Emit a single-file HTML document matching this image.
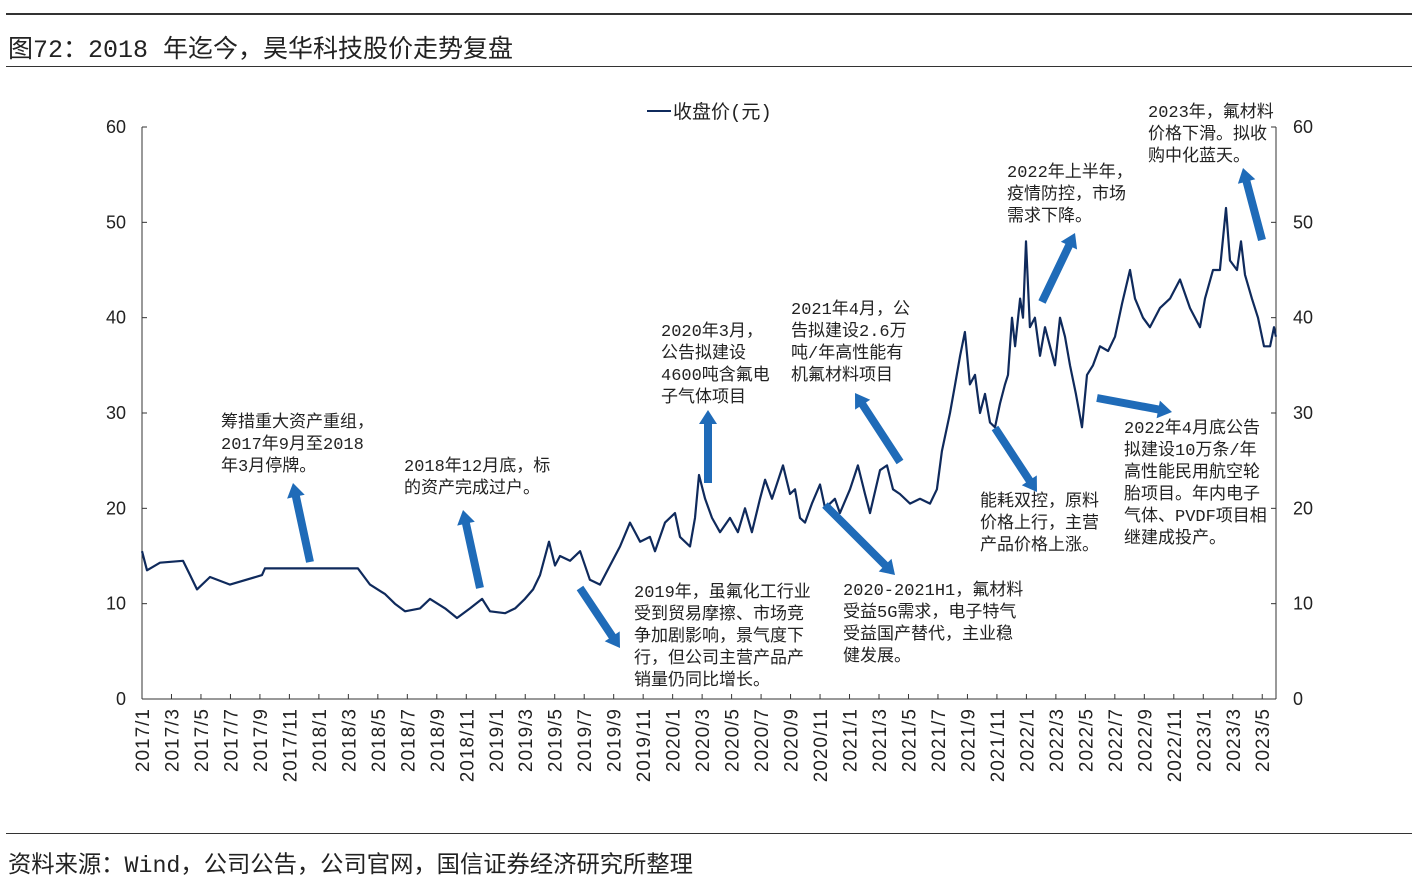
<!DOCTYPE html>
<html><head><meta charset="utf-8"><style>
body{margin:0;background:#fff;width:1418px;height:879px;overflow:hidden;font-family:"Liberation Mono","Noto Sans CJK SC",monospace;}
.t{position:absolute;color:#222;white-space:nowrap;}
.ann{position:absolute;font-size:17px;line-height:22px;color:#222;font-family:"Liberation Mono","Noto Sans CJK SC",monospace;white-space:nowrap;}
</style></head><body>
<div style="position:absolute;left:6px;top:13px;width:1406px;height:2px;background:#333"></div>
<div class="t" style="left:8px;top:29px;font-size:25px;">图72：2018 年迄今，昊华科技股价走势复盘</div>
<div style="position:absolute;left:6px;top:66px;width:1406px;height:1px;background:#333"></div>
<div style="position:absolute;left:6px;top:833px;width:1406px;height:1px;background:#333"></div>
<div class="t" style="left:8px;top:845px;font-size:23.3px;">资料来源：Wind，公司公告，公司官网，国信证券经济研究所整理</div>

<svg id="chart" width="1418" height="879" style="position:absolute;left:0;top:0" xmlns="http://www.w3.org/2000/svg"></svg>

<div class="ann" style="left:221px;top:413px">筹措重大资产重组，<br>2017年9月至2018<br>年3月停牌。</div>
<div class="ann" style="left:404px;top:457px">2018年12月底，标<br>的资产完成过户。</div>
<div class="ann" style="left:634px;top:583px">2019年，虽氟化工行业<br>受到贸易摩擦、市场竞<br>争加剧影响，景气度下<br>行，但公司主营产品产<br>销量仍同比增长。</div>
<div class="ann" style="left:661px;top:322px">2020年3月，<br>公告拟建设<br>4600吨含氟电<br>子气体项目</div>
<div class="ann" style="left:791px;top:300px">2021年4月，公<br>告拟建设2.6万<br>吨/年高性能有<br>机氟材料项目</div>
<div class="ann" style="left:843px;top:581px">2020-2021H1，氟材料<br>受益5G需求，电子特气<br>受益国产替代，主业稳<br>健发展。</div>
<div class="ann" style="left:980px;top:492px">能耗双控，原料<br>价格上行，主营<br>产品价格上涨。</div>
<div class="ann" style="left:1007px;top:163px">2022年上半年，<br>疫情防控，市场<br>需求下降。</div>
<div class="ann" style="left:1124px;top:419px">2022年4月底公告<br>拟建设10万条/年<br>高性能民用航空轮<br>胎项目。年内电子<br>气体、PVDF项目相<br>继建成投产。</div>
<div class="ann" style="left:1148px;top:103px">2023年，氟材料<br>价格下滑。拟收<br>购中化蓝天。</div>

<script>
// months since 2017/1
const months = [0,0.34,1.22,2.78,3.26,3.73,4.61,5.97,8.14,8.34,14.65,15.47,16.49,17.16,17.84,18.86,19.54,20.56,21.37,22.25,23.07,23.61,24.63,25.31,25.98,26.53,27.0,27.61,28.02,28.36,29.04,29.72,30.39,31.07,31.75,32.43,33.11,33.79,34.46,34.8,35.48,36.16,36.5,37.18,37.52,37.79,38.2,38.67,39.21,39.89,40.43,40.91,41.38,41.93,42.27,42.74,43.49,43.96,44.3,44.64,44.98,45.45,46.0,46.34,47.01,47.35,48.03,48.57,49.05,49.39,50.07,50.54,50.95,51.42,52.1,52.78,53.46,53.93,54.27,54.82,55.16,55.5,55.83,56.17,56.51,56.85,57.19,57.53,57.87,58.21,58.55,58.75,59.02,59.23,59.57,59.77,59.97,60.24,60.58,60.92,61.26,61.6,61.94,62.28,62.62,62.96,63.36,63.77,64.11,64.52,64.99,65.54,66.01,66.49,67.03,67.37,67.91,68.38,69.06,69.74,70.42,71.1,71.78,72.12,72.66,73.13,73.54,73.81,74.29,74.56,74.83,75.3,75.71,76.12,76.53,76.8,76.93];
const prices = [15.5,13.5,14.3,14.5,13,11.5,12.8,12,13,13.7,13.7,12,11,10,9.2,9.5,10.5,9.5,8.5,9.5,10.5,9.2,9,9.5,10.5,11.5,13,16.5,14,15,14.5,15.5,12.5,12,14,16,18.5,16.5,17,15.5,18.5,19.5,17,16,19,23.5,21,19,17.5,19,17.5,20,17.5,21,23,21,24.5,21.5,22,19,18.5,20.5,22.5,20,21,19.5,22,24.5,21.5,19.5,24,24.5,22,21.5,20.5,21,20.5,22,26,30,33,36,38.5,33,34,30,32,29,28.5,31,33,34,40,37,42,40,48,39,40,36,39,37,35,40,38,35,32,28.5,34,35,37,36.5,38,41.5,45,42,40,39,41,42,44,41,39,42,45,45,51.5,46,45,48,44.5,42,40,37,37,39,38];
const yTicks = [0,10,20,30,40,50,60];
const xLabels = [];
for(let y=2017;y<=2023;y++){for(let m=1;m<=11;m+=2){if(y===2023&&m>5)break;xLabels.push(y+'/'+m);}}

const svg=document.getElementById('chart');
const NS='http://www.w3.org/2000/svg';
const L=142,R=1276,T=127,B=699;
const xs=m=>L+m*14.74;
const ys=v=>B-(v/60)*(B-T);
function mk(tag,attrs){const e=document.createElementNS(NS,tag);for(const k in attrs)e.setAttribute(k,attrs[k]);svg.appendChild(e);return e;}

let ax=mk('line',{x1:L,y1:T,x2:L,y2:B,stroke:'#333','stroke-width':1});


ax=mk('line',{x1:R,y1:T,x2:R,y2:B,stroke:'#333','stroke-width':1});


ax=mk('line',{x1:L,y1:B,x2:R,y2:B,stroke:'#333','stroke-width':1});



yTicks.forEach(v=>{
  const y=ys(v);
  mk('line',{x1:L,y1:y,x2:L+5,y2:y,stroke:'#333'});
  mk('line',{x1:R-5,y1:y,x2:R,y2:y,stroke:'#333'});
  let t=mk('text',{x:126,y:y+6,'text-anchor':'end','font-size':18,fill:'#222','font-family':'Liberation Sans, sans-serif'});
  t.textContent=v;
  
  
  t=mk('text',{x:1293,y:y+6,'text-anchor':'start','font-size':18,fill:'#222','font-family':'Liberation Sans, sans-serif'});
  t.textContent=v;
  
  
});

xLabels.forEach((lab,i)=>{
  const x=xs(i*2);
  mk('line',{x1:x,y1:B,x2:x,y2:B-5,stroke:'#333'});
  const t=mk('text',{x:0,y:0,'text-anchor':'end','font-size':19,'letter-spacing':1,fill:'#222','font-family':'Liberation Sans, sans-serif',transform:`translate(${x+7},${B+9}) rotate(-90)`});
  t.textContent=lab;
  
  
});

let d=months.map((m,i)=>(i?'L':'M')+xs(m).toFixed(1)+','+ys(prices[i]).toFixed(1)).join(' ');
const line=mk('path',{d:d,fill:'none',stroke:'#0f2a5c','stroke-width':2.2,'stroke-linejoin':'round'});



let lg=mk('line',{x1:647,y1:111,x2:671,y2:111,stroke:'#0f2a5c','stroke-width':2});


lg=mk('text',{x:673,y:118,'font-size':19,fill:'#222','font-family':'Liberation Mono, Noto Sans CJK SC, monospace'});
lg.textContent='收盘价(元)';



const arrows=[[310,562,293,483],[480,588,463,510],[580,588,620,648],[708,483,708,410],[825,505,895,575],[900,462,855,393],[995,428,1037,492],[1042,302,1075,233],[1097,398,1172,412],[1262,240,1243,168]];
arrows.forEach(a=>{
  const [x1,y1,x2,y2]=a;const dx=x2-x1,dy=y2-y1,len=Math.hypot(dx,dy),ux=dx/len,uy=dy/len,px=-uy,py=ux;
  const hw=4,hh=9,hl=14;const bx=x2-ux*hl,by=y2-uy*hl;
  const pts=[[x1+px*hw,y1+py*hw],[bx+px*hw,by+py*hw],[bx+px*hh,by+py*hh],[x2,y2],[bx-px*hh,by-py*hh],[bx-px*hw,by-py*hw],[x1-px*hw,y1-py*hw]];
  const p=mk('polygon',{points:pts.map(q=>q[0].toFixed(1)+','+q[1].toFixed(1)).join(' '),fill:'#1f6bb8'});
  
  
});
</script>
</body></html>
